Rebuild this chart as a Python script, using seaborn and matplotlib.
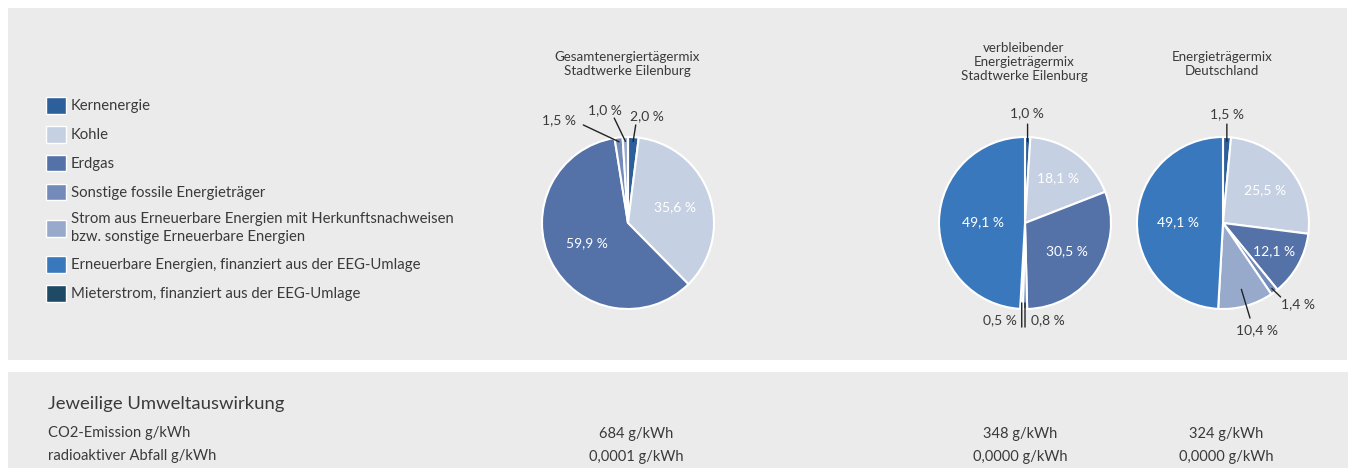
import numpy as np
import matplotlib.pyplot as plt
from matplotlib.patches import Patch, Rectangle
import seaborn as sns

# Data
categories = [
    "Kernenergie",
    "Kohle",
    "Erdgas",
    "Sonstige fossile Energieträger",
    "Strom aus Erneuerbare Energien mit Herkunftsnachweisen\nbzw. sonstige Erneuerbare Energien",
    "Erneuerbare Energien, finanziert aus der EEG-Umlage",
    "Mieterstrom, finanziert aus der EEG-Umlage",
]
colors = ["#2d5f9a", "#c6d0e3", "#5472a8", "#748bba", "#98aacc", "#3a78bd", "#1f4a66"]

mix_gesamt = [2.0, 35.6, 59.9, 1.5, 1.0, 0.0, 0.0]
mix_verbleibend = [1.0, 18.1, 30.5, 0.8, 0.5, 49.1, 0.0]
mix_deutschland = [1.5, 25.5, 12.1, 1.4, 10.4, 49.1, 0.0]

titles = [
    "Gesamtenergiertägermix\nStadtwerke Eilenburg",
    "verbleibender\nEnergieträgermix\nStadtwerke Eilenburg",
    "Energieträgermix\nDeutschland",
]
impact_title = "Jeweilige Umweltauswirkung"
impact_rows = ["CO2-Emission g/kWh", "radioaktiver Abfall g/kWh"]
co2_values = ["684 g/kWh", "348 g/kWh", "324 g/kWh"]
waste_values = ["0,0001 g/kWh", "0,0000 g/kWh", "0,0000 g/kWh"]

# Layout (pixels on a 1350x468 canvas)
W, H = 1350, 468
text_color = "#3a3a3a"
panel_color = "#ebebeb"

sns.set_theme(style="white")
plt.rcParams["font.family"] = ["Lato", "DejaVu Sans"]
plt.rcParams["text.color"] = text_color

fig = plt.figure(figsize=(W / 100, H / 100), dpi=100)
fig.patch.set_facecolor("white")


def fx(px):
    return px / W


def fy(py):
    return 1 - py / H


# gray panels
fig.add_artist(Rectangle((fx(8), fy(360)), fx(1339), 352 / H, transform=fig.transFigure,
                         facecolor=panel_color, edgecolor="none", zorder=0))
fig.add_artist(Rectangle((fx(8), 0), fx(1340), 96 / H, transform=fig.transFigure,
                         facecolor=panel_color, edgecolor="none", zorder=0))

# pie settings: center, inside label radii, outside labels (text pos, line end, line start radius)
pies = [
    dict(values=mix_gesamt, center=(628, 223), title_y=64,
         inner={1: 0.58, 2: 0.53},
         outer={0: ((0.22, 1.245), (0.09, 1.14), 0.95),
                3: ((-0.80, 1.20), (-0.52, 1.14), 0.95),
                4: ((-0.27, 1.315), (-0.16, 1.22), 0.95)}),
    dict(values=mix_verbleibend, center=(1025, 223), title_y=62,
         inner={1: 0.65, 2: 0.59, 5: 0.49},
         outer={0: ((0.02, 1.28), (0.03, 1.15), 0.95),
                3: ((0.27, -1.13), (0.0, -1.21), 0.93),
                4: ((-0.29, -1.13), (-0.038, -1.21), 0.93)}),
    dict(values=mix_deutschland, center=(1223, 223), title_y=64,
         inner={1: 0.62, 2: 0.68, 5: 0.52},
         outer={0: ((0.047, 1.267), (0.045, 1.15), 0.95),
                3: ((0.87, -0.94), (0.67, -0.86), 0.95),
                4: ((0.395, -1.245), (0.314, -1.105), 0.8)}),
]
radius_px = 86

for pie, title in zip(pies, titles):
    cx, cy = pie["center"]
    ax = fig.add_axes([fx(cx - radius_px), fy(cy + radius_px), 2 * radius_px / W, 2 * radius_px / H])
    idx = [i for i, v in enumerate(pie["values"]) if v > 0]
    vals = [pie["values"][i] for i in idx]
    cols = [colors[i] for i in idx]
    wedges, _ = ax.pie(vals, colors=cols, startangle=90, counterclock=False, radius=1,
                       wedgeprops=dict(edgecolor="white", linewidth=1.5))
    ax.set_xlim(-1, 1)
    ax.set_ylim(-1, 1)
    ax.axis("off")

    for w, i, v in zip(wedges, idx, vals):
        mid = np.deg2rad((w.theta1 + w.theta2) / 2)
        label = f"{v:.1f} %".replace(".", ",")
        if i in pie["inner"]:
            r = pie["inner"][i]
            ax.text(r * np.cos(mid), r * np.sin(mid), label, color="white",
                    ha="center", va="center", fontsize=10)
        elif i in pie["outer"]:
            tpos, lend, r0 = pie["outer"][i]
            ax.annotate("", xy=(r0 * np.cos(mid), r0 * np.sin(mid)), xytext=lend,
                        arrowprops=dict(arrowstyle="-", color="#222222", lw=1,
                                        shrinkA=0, shrinkB=0),
                        annotation_clip=False)
            ax.text(tpos[0], tpos[1], label, ha="center", va="center",
                    fontsize=10, clip_on=False)

    fig.text(fx(cx - 1), fy(pie["title_y"]), title, ha="center", va="center",
             fontsize=9.6, linespacing=1.2)

# legend
handles = [Patch(facecolor=c, edgecolor="white", linewidth=1) for c in colors]
fig.legend(handles, categories, loc="upper left", bbox_to_anchor=(fx(46), fy(97)),
           frameon=False, fontsize=10.7, handlelength=1.35, handleheight=1.35,
           handletextpad=0.3, labelspacing=0.82, borderpad=0, borderaxespad=0,
           prop=None)
for t in fig.legends[0].get_texts():
    t.set_linespacing(1.3)

# bottom table
fig.text(fx(48), fy(404), impact_title, ha="left", va="center", fontsize=13.3)
for row, y in zip(impact_rows, [433, 456]):
    fig.text(fx(48), fy(y), row, ha="left", va="center", fontsize=10.6)
for x, co2, waste in zip([636, 1020, 1226], co2_values, waste_values):
    fig.text(fx(x), fy(434), co2, ha="center", va="center", fontsize=10.5)
    fig.text(fx(x), fy(457), waste, ha="center", va="center", fontsize=10.5)

fig.savefig("out.png", dpi=100, facecolor="white")
